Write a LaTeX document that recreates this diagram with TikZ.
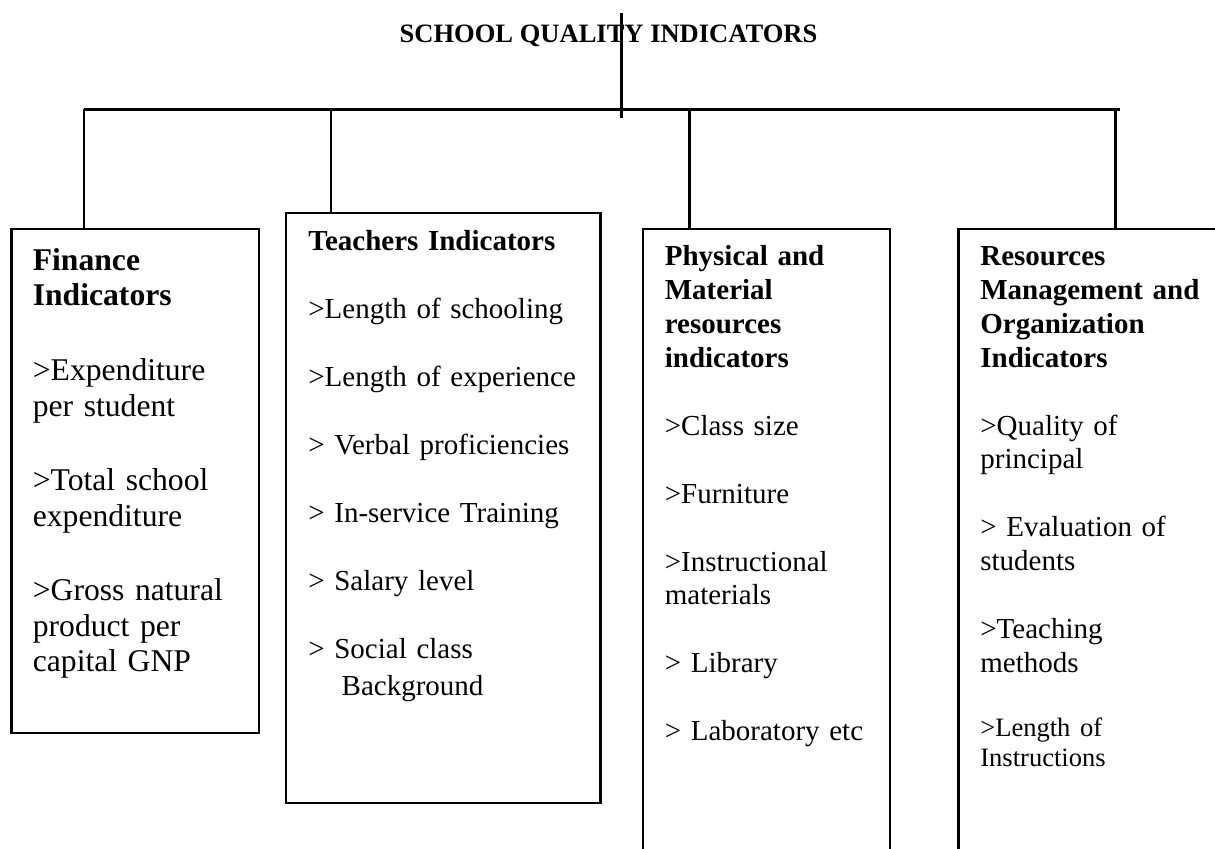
\documentclass[tikz,border=0pt]{standalone}
\usepackage{fontspec}
\setmainfont{Liberation Serif}

\begin{document}
\begin{tikzpicture}[
        box/.style={draw, line width=1.4pt, inner sep=0pt, outer sep=0pt, anchor=north west},
        list/.style={inner sep=0pt, anchor=base west, text width=7cm, align=left,
            font=\fontsize{16.5pt}{19.2pt}\selectfont},
        link/.style={line width=1.2pt}]
    \clip (0,0) rectangle (24.3,16.96);

    \node[inner sep=0pt, anchor=base, font=\fontsize{15.1pt}{18pt}\selectfont\bfseries] (title) at (12.17,16.11) {SCHOOL QUALITY INDICATORS};

    % the four indicator boxes
    \node[box, minimum width=4.95cm, minimum height=10.08cm] (fin) at (0.23,12.38) {};
    \node[box, minimum width=6.29cm, minimum height=11.80cm] (tea) at (5.72,12.70) {};
    \node[box, minimum width=4.94cm, minimum height=12.80cm] (phy) at (12.86,12.38) {};
    \node[box, minimum width=5.60cm, minimum height=12.80cm] (res) at (19.17,12.38) {};

    \node[list, font=\fontsize{18pt}{20.2pt}\selectfont] (fintext) at (0.65,11.55) {%
        \textbf{Finance}\\ \textbf{Indicators}\\[22.2pt]
        >Expenditure\\ per student\\[22.2pt]
        >Total school\\ expenditure\\[22.2pt]
        >Gross natural\\ product per\\ capital GNP};
    \node[list] (teatext) at (6.16,11.95) {%
        \textbf{Teachers Indicators}\\[19.5pt]
        >Length of schooling\\[19.5pt]
        >Length of experience\\[19.5pt]
        > Verbal proficiencies\\[19.5pt]
        > In-service Training\\[19.5pt]
        > Salary level\\[19.5pt]
        > Social class\\[2pt]
        \hspace*{19pt}Background};
    \node[list] (phytext) at (13.29,11.64) {%
        \textbf{Physical and}\\ \textbf{Material}\\ \textbf{resources}\\ \textbf{indicators}\\[19.5pt]
        >Class size\\[19.5pt]
        >Furniture\\[19.5pt]
        >Instructional\\ materials\\[19.5pt]
        > Library\\[19.5pt]
        > Laboratory etc};
    \node[list] (restext) at (19.60,11.64) {%
        \textbf{Resources}\\ \textbf{Management and}\\ \textbf{Organization}\\ \textbf{Indicators}\\[19.5pt]
        >Quality of\\ principal\\[19.5pt]
        > Evaluation of\\ students\\[19.5pt]
        >Teaching\\ methods\\[19.5pt]
        {\fontsize{15.1pt}{17.1pt}\selectfont >Length of\\[-2.1pt] Instructions}};

    % stem and bar
    \coordinate (top) at (12.43,16.70);
    \coordinate (mid) at (12.43,14.60);
    \coordinate (left) at (1.68,14.77);
    \coordinate (right) at (22.40,14.77);
    \draw[link] (top) -- (mid);
    \draw[link] (left) -- (right);

    \foreach \x/\b in {1.68/fin, 6.62/tea, 13.79/phy, 22.31/res} {
        \coordinate (j\b) at (\x,14.77);
        \draw[link] (j\b) -- (j\b |- \b.north);
    }
\end{tikzpicture}
\end{document}
